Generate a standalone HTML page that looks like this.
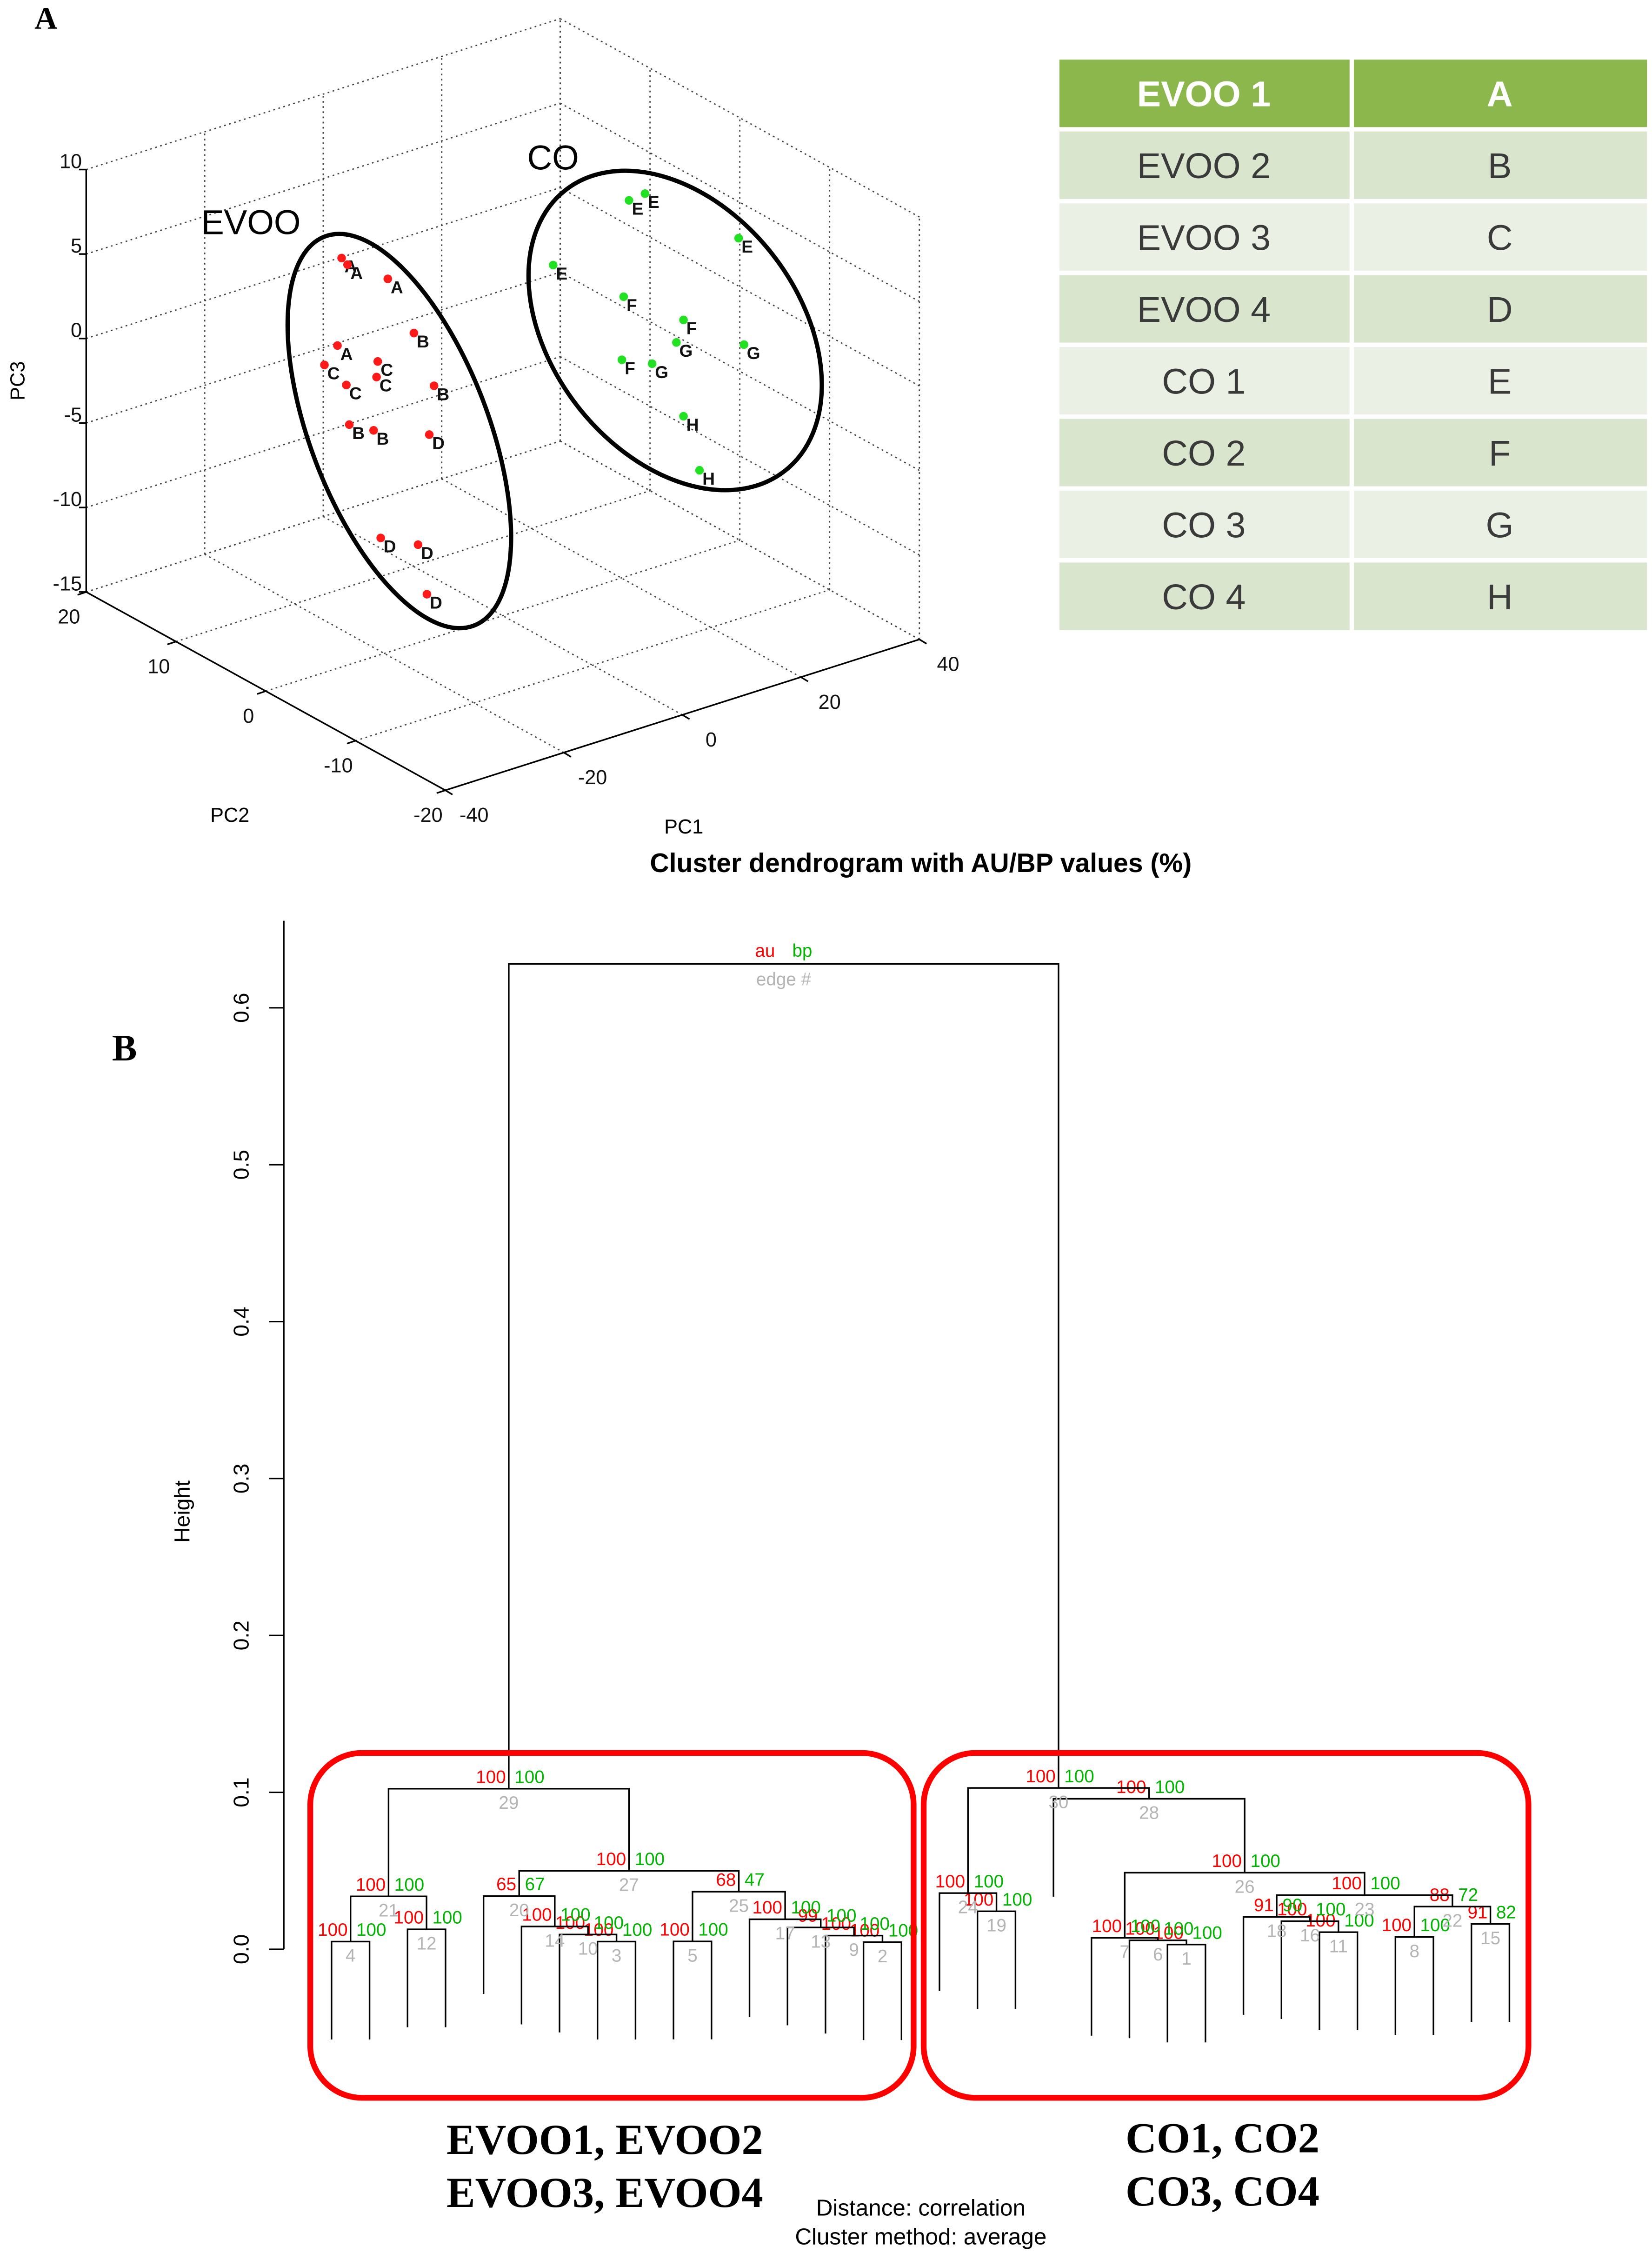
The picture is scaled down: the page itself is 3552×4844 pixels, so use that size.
<!DOCTYPE html>
<html><head><meta charset="utf-8"><style>
html,body{margin:0;padding:0;background:#fff}
svg{display:block}
</style></head><body>
<svg id="fig" xmlns="http://www.w3.org/2000/svg" width="3552" height="4844" viewBox="0 0 1150 1568" preserveAspectRatio="none" font-family="Liberation Sans, sans-serif">
<rect x="0" y="0" width="1150" height="1568" fill="#fff"/>
<text x="24" y="20" font-family="Liberation Serif, serif" font-weight="bold" font-size="22">A</text>
<g id="pca"></g>
<g id="table"></g>
<text x="641" y="607" text-anchor="middle" font-weight="bold" font-size="18.5">Cluster dendrogram with AU/BP values (%)</text>
<text x="78" y="738" font-family="Liberation Serif, serif" font-weight="bold" font-size="26">B</text>
<g id="dendro"></g>
<rect x="216" y="1220" width="420" height="240" rx="36" fill="none" stroke="#ff0000" stroke-width="4"/>
<rect x="643" y="1220" width="421" height="240" rx="36" fill="none" stroke="#ff0000" stroke-width="4"/>
<g font-family="Liberation Serif, serif" font-weight="bold" font-size="30" text-anchor="middle">
<text x="421" y="1499">EVOO1, EVOO2</text>
<text x="421" y="1536">EVOO3, EVOO4</text>
<text x="851" y="1498">CO1, CO2</text>
<text x="851" y="1535">CO3, CO4</text>
</g>
<text x="641" y="1542" text-anchor="middle" font-size="16">Distance:  correlation</text>
<text x="641" y="1562" text-anchor="middle" font-size="16">Cluster method: average</text>
</svg>
<script>
var NS='http://www.w3.org/2000/svg';
// ---------- PCA data ----------
var pcaGroups=['EVOO','EVOO','EVOO','EVOO','EVOO','EVOO','EVOO','EVOO','EVOO','EVOO','EVOO','EVOO','EVOO','EVOO','EVOO','EVOO','CO','CO','CO','CO','CO','CO','CO','CO','CO','CO','CO','CO'];
var pcaLabels=['A','A','A','A','C','C','C','C','B','B','B','B','D','D','D','D','E','E','E','E','F','F','F','G','G','G','H','H'];
var pc1Vals=[-27.2,-26.2,-19.4,-27.9,-30.1,-21.1,-26.4,-21.3,-15.0,-11.6,-25.9,-21.8,-12.4,-20.6,-14.3,-12.8,21.3,24.0,39.8,8.5,20.4,30.5,20.1,25.2,29.3,40.7,30.5,33.2];
var pc2Vals=[0,0,0,0,0,0,0,0,0,0,0,0,0,0,0,0,0,0,0,0,0,0,0,0,0,0,0,0];
var pc3Vals=[9.2,8.7,7.1,4.1,3.2,2.4,1.6,1.5,3.4,-0.1,-0.8,-1.6,-2.9,-8.1,-9.2,-12.3,7.2,7.3,2.9,4.8,1.6,-0.9,-2.1,-2.9,-2.1,-3.5,-6.6,-10.1];
var pc1Ticks=[-40,-20,0,20,40];
var pc2Ticks=[20,10,0,-10,-20];
var pc3Ticks=[10,5,0,-5,-10,-15];

function proj(a,b,c){
  var u=(a+40)/80, v=(20-b)/40, w=(c+15)/25;
  return [60+u*330+v*250, 412-u*105+v*138-w*294];
}
function mk(tag,parent,attrs){var e=document.createElementNS(NS,tag);for(var k in attrs)e.setAttribute(k,attrs[k]);parent.appendChild(e);return e;}
var pca=document.getElementById('pca');
function line(p,q,dotted,name){
  var l=mk('line',pca,{x1:p[0],y1:p[1],x2:q[0],y2:q[1],stroke:dotted?'#444':'#000','stroke-width':dotted?0.9:1.1,'stroke-dasharray':dotted?'1.2,2.4':'none'});
  
  
}
// floor grid
pc1Ticks.forEach(function(a){line(proj(a,-20,-15),proj(a,20,-15),true,'floor-grid-line');});
pc2Ticks.forEach(function(b){line(proj(-40,b,-15),proj(40,b,-15),true,'floor-grid-line');});
// back wall pc2=20
pc1Ticks.forEach(function(a){line(proj(a,20,-15),proj(a,20,10),true,'wall-grid-line');});
pc3Ticks.forEach(function(c){line(proj(-40,20,c),proj(40,20,c),true,'wall-grid-line');});
// back wall pc1=40
pc2Ticks.forEach(function(b){line(proj(40,b,-15),proj(40,b,10),true,'wall-grid-line');});
pc3Ticks.forEach(function(c){line(proj(40,-20,c),proj(40,20,c),true,'wall-grid-line');});
// axes
line(proj(-40,20,-15),proj(-40,20,10),false,'pc3-axis');
line(proj(-40,20,-15),proj(-40,-20,-15),false,'pc2-axis');
line(proj(-40,-20,-15),proj(40,-20,-15),false,'pc1-axis');
pc3Ticks.forEach(function(c){var p=proj(-40,20,c);line([p[0]-5,p[1]],p,false,'pc3-tick');
  var t=mk('text',pca,{x:p[0]-3,y:p[1]-1,'text-anchor':'end','font-size':14,fill:'#111'});t.textContent=c;
  
  });
pc2Ticks.forEach(function(b){var p=proj(-40,b,-15);line(p,[p[0]-6,p[1]+2],false,'pc2-tick');
  var t=mk('text',pca,{x:p[0]-12,y:p[1]+22,'text-anchor':'middle','font-size':14,fill:'#111'});t.textContent=b;
  
  });
pc1Ticks.forEach(function(a){var p=proj(a,-20,-15);line(p,[p[0]+5,p[1]+3],false,'pc1-tick');
  var t=mk('text',pca,{x:p[0]+20,y:p[1]+22,'text-anchor':'middle','font-size':14,fill:'#111'});t.textContent=a;
  
  });
(function(){
  var t=mk('text',pca,{x:17,y:265,'text-anchor':'middle','font-size':14,transform:'rotate(-90 17 265)'});t.textContent='PC3';
  
  t=mk('text',pca,{x:160,y:572,'text-anchor':'middle','font-size':14});t.textContent='PC2';
  
  t=mk('text',pca,{x:476,y:580,'text-anchor':'middle','font-size':14});t.textContent='PC1';
  
})();
// points
for(var i=0;i<pc1Vals.length;i++){
  var p=proj(pc1Vals[i],pc2Vals[i],pc3Vals[i]);
  var c=mk('circle',pca,{cx:p[0],cy:p[1],r:3,fill:pcaGroups[i]==='EVOO'?'#ff1a1a':'#22e022'});
  
  
  var t=mk('text',pca,{x:p[0]+2,y:p[1]+10,'font-size':12,'font-weight':'bold',fill:'#111'});t.textContent=pcaLabels[i];
  
  
}
(function(){
  var e=mk('ellipse',pca,{cx:278,cy:300,rx:62,ry:145,fill:'none',stroke:'#000','stroke-width':3,transform:'rotate(-21 278 300)'});
  
  e=mk('ellipse',pca,{cx:470,cy:230,rx:86,ry:124,fill:'none',stroke:'#000','stroke-width':3,transform:'rotate(-38 470 230)'});
  
  var t=mk('text',pca,{x:140,y:163,'font-size':24});t.textContent='EVOO';
  
  t=mk('text',pca,{x:367,y:118,'font-size':24});t.textContent='CO';
  
})();

// ---------- table ----------
var tableNames=['EVOO 1','EVOO 2','EVOO 3','EVOO 4','CO 1','CO 2','CO 3','CO 4'];
var tableCodes=['A','B','C','D','E','F','G','H'];
var tb=document.getElementById('table');
for(var r=0;r<tableNames.length;r++){
  var y=40+r*50, fill=r===0?'#8cb74c':(r%2===1?'#d9e5cd':'#eaf1e4');
  var c1=mk('rect',tb,{x:736,y:y,width:205,height:50,fill:fill,stroke:'#fff','stroke-width':3});
  
  var c2=mk('rect',tb,{x:941,y:y,width:207,height:50,fill:fill,stroke:'#fff','stroke-width':3});
  
  var t1=mk('text',tb,{x:838,y:y+34,'text-anchor':'middle','font-size':25,fill:r===0?'#fff':'#3a3a3a','font-weight':r===0?'bold':'normal'});t1.textContent=tableNames[r];
  
  var t2=mk('text',tb,{x:1044,y:y+34,'text-anchor':'middle','font-size':25,fill:r===0?'#fff':'#3a3a3a','font-weight':r===0?'bold':'normal'});t2.textContent=tableCodes[r];
  
}

// ---------- dendrogram data ----------
var mergeA=[-23,-15,-8,-1,-10,-22,-21,-29,-14,-7,-27,-3,-13,-6,-31,-26,-12,-25,-18,-5,4,8,18,-17,5,7,20,-20,21,24,29];
var mergeB=[-24,-16,-9,-2,-11,1,6,-30,2,3,-28,-4,9,10,-32,11,13,16,-19,14,12,15,22,19,17,23,25,26,27,28,30];
var heights=[0.0030,0.0045,0.0049,0.0049,0.0050,0.0057,0.0073,0.0078,0.0087,0.0094,0.0109,0.0127,0.0139,0.0145,0.0161,0.0179,0.0191,0.0206,0.0242,0.0339,0.0337,0.0272,0.0345,0.0358,0.0367,0.0488,0.0500,0.0959,0.1023,0.1028,0.628];
var auVals=[100,100,100,100,100,100,100,100,100,100,100,100,99,100,91,100,100,91,100,65,100,88,100,100,68,100,100,100,100,100];
var bpVals=[100,100,100,100,100,100,100,100,100,100,100,100,100,100,82,100,100,90,100,67,100,72,100,100,47,100,100,100,100,100];
var yTicks=[0,0.1,0.2,0.3,0.4,0.5,0.6];
var nLeaves=32, hang=0.0624;

var dg=document.getElementById('dendro');
function X(i){return 230.8+i*26.45;}
function Y(h){return 1356.6-h*1092;}
// axis
(function(){
  var a=mk('line',dg,{x1:197.5,y1:640.8,x2:197.5,y2:1356.6,stroke:'#000','stroke-width':1.2});
  
  var t=mk('text',dg,{x:132,y:1052,'text-anchor':'middle','font-size':15,transform:'rotate(-90 132 1052)'});t.textContent='Height';
  
})();
yTicks.forEach(function(v){
  var y=Y(v);
  var l=mk('line',dg,{x1:187.4,y1:y,x2:197.5,y2:y,stroke:'#000','stroke-width':1});
  
  var t=mk('text',dg,{x:173,y:y,'text-anchor':'middle','font-size':15,transform:'rotate(-90 173 '+y+')'});t.textContent=v.toFixed(1);
  
});
var nodeX=[];
function cx(ref){return ref<0?X(-ref-1):nodeX[ref-1];}
for(var m=0;m<mergeA.length;m++){
  nodeX[m]=(cx(mergeA[m])+cx(mergeB[m]))/2;
  var py=Y(heights[m]);
  var ya=mergeA[m]<0?Y(heights[m]-hang):Y(heights[mergeA[m]-1]);
  var yb=mergeB[m]<0?Y(heights[m]-hang):Y(heights[mergeB[m]-1]);
  var xa=cx(mergeA[m]), xb=cx(mergeB[m]);
  var p=mk('path',dg,{d:'M'+xa+','+ya+'V'+py+'H'+xb+'V'+yb,fill:'none',stroke:'#000','stroke-width':1.1});
  
  
  if(m<auVals.length){
    var ta=mk('text',dg,{x:nodeX[m]-2,y:py-4,'text-anchor':'end','font-size':12.5,fill:'#ff0000'});ta.textContent=auVals[m];
    
    var tb2=mk('text',dg,{x:nodeX[m]+4,y:py-4,'text-anchor':'start','font-size':12.5,fill:'#00b400'});tb2.textContent=bpVals[m];
    
    var te=mk('text',dg,{x:nodeX[m],y:py+14,'text-anchor':'middle','font-size':12.5,fill:'#b4b4b4'});te.textContent=(m+1);
    
  } else {
    var la=mk('text',dg,{x:nodeX[m]-6,y:py-5,'text-anchor':'end','font-size':12.5,fill:'#ff0000'});la.textContent='au';
    
    var lb=mk('text',dg,{x:nodeX[m]+6,y:py-5,'text-anchor':'start','font-size':12.5,fill:'#00b400'});lb.textContent='bp';
    
    var le=mk('text',dg,{x:nodeX[m],y:py+15,'text-anchor':'middle','font-size':12.5,fill:'#b4b4b4'});le.textContent='edge #';
    
  }
}
</script>
</body></html>
